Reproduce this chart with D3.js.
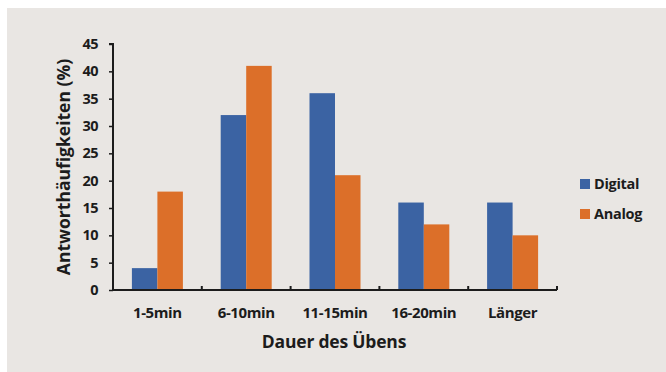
<!DOCTYPE html>
<html>
<head>
<meta charset="utf-8">
<script src="https://cdn.jsdelivr.net/npm/d3@7"></script>
<style>
  html, body { margin: 0; padding: 0; background: #ffffff; }
  svg { display: block; }
  text { font-family: "Open Sans", "Noto Sans", sans-serif; font-weight: 700; fill: #1c1c1c; }
</style>
</head>
<body>
<script>
// Chart data
const categories = ["1-5min", "6-10min", "11-15min", "16-20min", "Länger"];
const seriesNames = ["Digital", "Analog"];
const digitalValues = [4, 32, 36, 16, 16];
const analogValues = [18, 41, 21, 12, 10];
const yTicks = [0, 5, 10, 15, 20, 25, 30, 35, 40, 45];

const colors = { Digital: "#3b63a3", Analog: "#dc6f29" };

const W = 666, H = 372;
const svg = d3.select("body").append("svg").attr("width", W).attr("height", H);

// panel background
svg.append("rect").attr("x", 7).attr("y", 8).attr("width", W - 7).attr("height", H - 8)
  .attr("fill", "#e9e6e3");

const plot = { left: 113, right: 557, top: 44, bottom: 290 };

const x0 = d3.scaleBand().domain(categories).range([plot.left, plot.right]).padding(0);
const y = d3.scaleLinear().domain([0, 45]).range([plot.bottom, plot.top]);
const groupW = 51;
const x1 = d3.scaleBand().domain(seriesNames).range([0, groupW]).padding(0);

const rows = categories.map((c, i) => ({ cat: c, Digital: digitalValues[i], Analog: analogValues[i] }));

// bars
const groups = svg.append("g").selectAll("g").data(rows).join("g")
  .attr("transform", d => `translate(${x0(d.cat) + (x0.bandwidth() - groupW) / 2},0)`);
groups.selectAll("rect")
  .data(d => seriesNames.map(s => ({ s, v: d[s] })))
  .join("rect")
  .attr("x", d => x1(d.s))
  .attr("y", d => y(d.v))
  .attr("width", x1.bandwidth())
  .attr("height", d => y(0) - y(d.v))
  .attr("fill", d => colors[d.s]);

// y axis
const yAxis = svg.append("g").attr("transform", `translate(${plot.left},0)`)
  .call(d3.axisLeft(y).tickValues(yTicks).tickSize(4).tickPadding(11));
yAxis.select(".domain").attr("stroke", "#1c1c1c").attr("stroke-width", 2)
  .attr("d", `M-4,${plot.top}H0V${plot.bottom}`);
yAxis.selectAll(".tick line").attr("stroke", "#1c1c1c").attr("stroke-width", 1.5);
yAxis.selectAll(".tick text").attr("font-size", 14.5).attr("letter-spacing", -0.5)
  .style("font-weight", 700).attr("fill", "#1c1c1c");

// x axis with boundary ticks pointing up
const xAxis = svg.append("g").attr("transform", `translate(0,${plot.bottom})`);
xAxis.append("line").attr("x1", plot.left - 1).attr("x2", plot.right)
  .attr("y1", 0).attr("y2", 0).attr("stroke", "#1c1c1c").attr("stroke-width", 2);
const bounds = categories.map(c => x0(c) + x0.bandwidth());
xAxis.selectAll("line.tk").data(bounds).join("line").attr("class", "tk")
  .attr("x1", d => d).attr("x2", d => d).attr("y1", 0).attr("y2", -4)
  .attr("stroke", "#1c1c1c").attr("stroke-width", 2);
xAxis.selectAll("text.lbl").data(categories).join("text").attr("class", "lbl")
  .attr("x", d => x0(d) + x0.bandwidth() / 2).attr("y", 28)
  .attr("text-anchor", "middle").attr("font-size", 15).attr("letter-spacing", -0.4).text(d => d);

// axis titles
svg.append("text").attr("x", 334).attr("y", 348).attr("text-anchor", "middle")
  .attr("font-size", 17.5).attr("letter-spacing", -0.2).text("Dauer des Übens");
svg.append("text").attr("transform", `translate(70,${(plot.top + plot.bottom) / 2}) rotate(-90)`)
  .attr("text-anchor", "middle").attr("font-size", 17.5).attr("letter-spacing", 0)
  .text("Antworthäufigkeiten (%)");

// legend
const legend = svg.append("g").selectAll("g").data(seriesNames).join("g")
  .attr("transform", (d, i) => `translate(580,${184 + i * 30})`);
legend.append("rect").attr("x", 0).attr("y", -5).attr("width", 10).attr("height", 10)
  .attr("fill", d => colors[d]);
legend.append("text").attr("x", 14).attr("y", 0).attr("dy", "0.36em")
  .attr("font-size", 14.5).attr("letter-spacing", -0.3).text(d => d);
</script>
</body>
</html>
